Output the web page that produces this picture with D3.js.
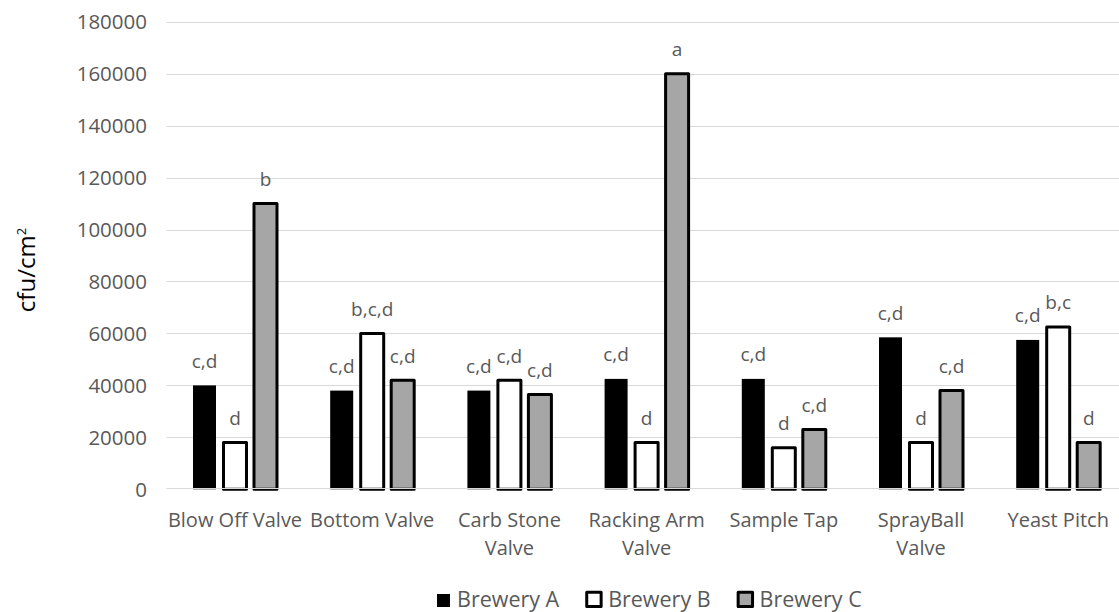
<!DOCTYPE html>
<html>
<head>
<meta charset="utf-8">
<script src="https://cdn.jsdelivr.net/npm/d3@7"></script>
<style>
  body { margin: 0; background: #fff; }
  svg { display: block; }
  text { font-family: "Open Sans", sans-serif; }
</style>
</head>
<body>
<svg id="chart" width="1119" height="612"></svg>
<script>
// Sampling sites on the fermentation equipment
const categories = ["Blow Off Valve", "Bottom Valve", "Carb Stone Valve", "Racking Arm Valve",
                    "Sample Tap", "SprayBall Valve", "Yeast Pitch"];
// How each site name is wrapped under the axis
const categoryLines = [["Blow Off Valve"], ["Bottom Valve"], ["Carb Stone", "Valve"],
                       ["Racking Arm", "Valve"], ["Sample Tap"], ["SprayBall", "Valve"], ["Yeast Pitch"]];

const seriesNames = ["Brewery A", "Brewery B", "Brewery C"];

// Mean counts, cfu/cm²
const breweryA = [40000, 38000, 38000, 42500, 42500, 58500, 57500];
const breweryB = [18000, 60000, 42000, 18000, 16000, 18000, 62500];
const breweryC = [110000, 42000, 36500, 160000, 23000, 38000, 18000];

// Significance groupings shown above each bar
const lettersA = ["c,d", "c,d", "c,d", "c,d", "c,d", "c,d", "c,d"];
const lettersB = ["d", "b,c,d", "c,d", "d", "d", "d", "b,c"];
const lettersC = ["b", "c,d", "c,d", "a", "c,d", "c,d", "d"];

const yTicks = [0, 20000, 40000, 60000, 80000, 100000, 120000, 140000, 160000, 180000];

const seriesValues = [breweryA, breweryB, breweryC];
const seriesLetters = [lettersA, lettersB, lettersC];
const seriesStyle = [
  { fill: "#000000", stroke: "none", sw: 0 },
  { fill: "#ffffff", stroke: "#000000", sw: 3 },
  { fill: "#a6a6a6", stroke: "#000000", sw: 3 }
];

const svg = d3.select("#chart");
const W = 1119, H = 612;

const plotLeft = 166.4, plotRight = 1126.8;
const y = d3.scaleLinear().domain([0, 180000]).range([489.3, 21.7]);

const x0 = d3.scaleBand().domain(categories).range([plotLeft, plotRight]).paddingInner(0).paddingOuter(0);
const bw = x0.bandwidth();
const groupW = 91.5;
const x1 = d3.scaleBand().domain(seriesNames)
  .range([(bw - groupW) / 2, (bw + groupW) / 2])
  .paddingInner(0.246).paddingOuter(0.123);

const textGray = "#595959";
const gridColor = "#d9d9d9";

// Horizontal gridlines
svg.append("g").selectAll("line.grid")
  .data(yTicks.filter(d => d > 0))
  .join("line")
  .attr("x1", plotLeft).attr("x2", W)
  .attr("y1", d => Math.round(y(d)) + 0.5).attr("y2", d => Math.round(y(d)) + 0.5)
  .attr("stroke", gridColor).attr("stroke-width", 1);

// Y axis tick labels
const yAxis = d3.axisLeft(y).tickValues(yTicks).tickSize(0).tickPadding(0).tickFormat(d3.format("d"));
const yg = svg.append("g").attr("transform", "translate(147,0)").call(yAxis);
yg.select(".domain").remove();
yg.selectAll("text")
  .attr("fill", textGray)
  .style("font-size", "20.5px")
  .style("font-family", "'Open Sans', sans-serif")
  .attr("dy", "0.35em");

// Bars
const barData = [];
categories.forEach((c, i) => {
  seriesNames.forEach((s, j) => {
    barData.push({ cat: c, series: s, j, value: seriesValues[j][i], letter: seriesLetters[j][i] });
  });
});

svg.append("g").selectAll("rect.bar")
  .data(barData)
  .join("rect")
  .attr("x", d => x0(d.cat) + x1(d.series))
  .attr("width", x1.bandwidth())
  .attr("y", d => y(d.value))
  .attr("height", d => y(0) - y(d.value))
  .attr("fill", d => seriesStyle[d.j].fill)
  .attr("stroke", d => seriesStyle[d.j].stroke)
  .attr("stroke-width", d => seriesStyle[d.j].sw)
  .attr("stroke-linejoin", "round");

// Baseline axis
svg.append("line")
  .attr("x1", plotLeft).attr("x2", W)
  .attr("y1", Math.round(y(0)) - 0.5).attr("y2", Math.round(y(0)) - 0.5)
  .attr("stroke", gridColor).attr("stroke-width", 1);

// Letter labels above bars
svg.append("g").selectAll("text.lbl")
  .data(barData)
  .join("text")
  .attr("x", d => x0(d.cat) + x1(d.series) + x1.bandwidth() / 2)
  .attr("y", d => y(d.value) - 17.5)
  .attr("text-anchor", "middle")
  .attr("fill", textGray)
  .style("font-size", "19px")
  .text(d => d.letter);

// Category labels
const cg = svg.append("g").selectAll("text.cat")
  .data(categories)
  .join("text")
  .attr("x", d => x0(d) + bw / 2)
  .attr("y", 527)
  .attr("text-anchor", "middle")
  .attr("fill", textGray)
  .style("font-size", "20px");
cg.each(function(d, i) {
  d3.select(this).selectAll("tspan")
    .data(categoryLines[i])
    .join("tspan")
    .attr("x", x0(d) + bw / 2)
    .attr("dy", (t, k) => k === 0 ? 0 : 28)
    .text(t => t);
});

// Y axis title
const yt = svg.append("text")
  .attr("transform", "translate(35,270) rotate(-90)")
  .attr("text-anchor", "middle")
  .attr("fill", "#000")
  .style("font-size", "24px");
yt.append("tspan").text("cfu/cm");
yt.append("tspan").attr("dy", "-0.7em").style("font-size", "13px").text("2");

// Legend
const legend = svg.append("g");
let lx = 437;
const legendBase = 607.3;
seriesNames.forEach((s, j) => {
  const st = seriesStyle[j];
  if (st.sw === 0) {
    legend.append("rect").attr("x", lx).attr("y", 594).attr("width", 13).attr("height", 13)
      .attr("fill", st.fill);
  } else {
    legend.append("rect").attr("x", lx + 1.5).attr("y", 592.2).attr("width", 14.4).attr("height", 14.4)
      .attr("fill", st.fill).attr("stroke", st.stroke).attr("stroke-width", st.sw)
      .attr("stroke-linejoin", "round");
  }
  const sq = st.sw === 0 ? 13 : 17.4;
  const t = legend.append("text")
    .attr("x", lx + sq + (st.sw === 0 ? 7 : 5.5))
    .attr("y", legendBase)
    .attr("fill", textGray)
    .style("font-size", "21.5px")
    .text(s);
  const tw = t.node().getComputedTextLength();
  lx = lx + sq + (st.sw === 0 ? 7 : 5.5) + tw + 26;
});
</script>
</body>
</html>
